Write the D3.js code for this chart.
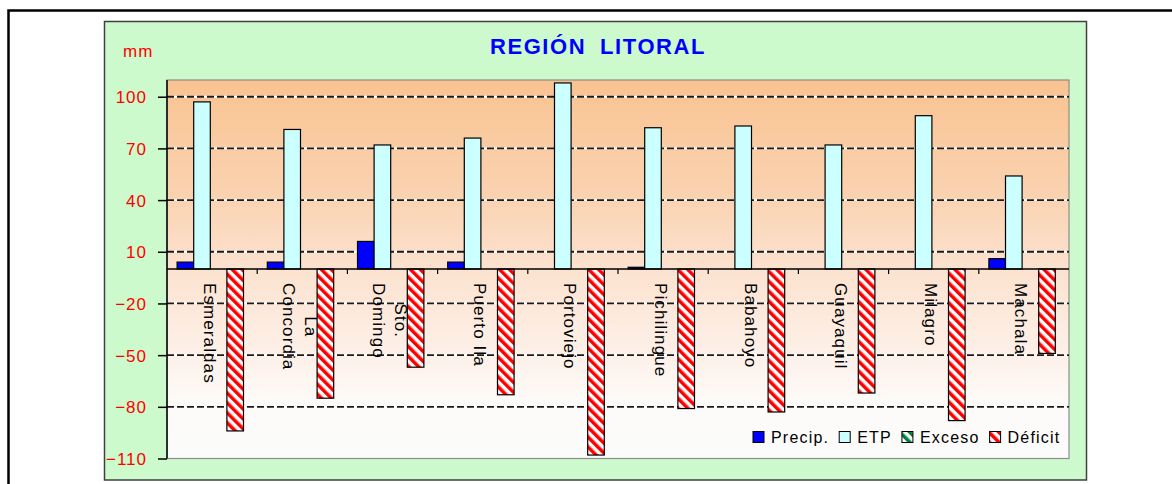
<!DOCTYPE html>
<html>
<head>
<meta charset="utf-8">
<script src="https://cdn.jsdelivr.net/npm/d3@7"></script>
<style>
  html, body { margin: 0; padding: 0; background: #ffffff; }
  svg { display: block; }
  text { font-family: "Liberation Sans", Arial, sans-serif; }
</style>
</head>
<body>
<svg id="chart" width="1172" height="484"></svg>
<script>
// ---------- data ----------
const categories = ["Esmeraldas", "La Concordia", "Sto. Domingo", "Puerto Ila", "Portoviejo",
                    "Pichilingue", "Babahoyo", "Guayaquil", "Milagro", "Machala"];
const categoryLabels = [["Esmeraldas"], ["La", "Concordia"], ["Sto.", "Domingo"], ["Puerto Ila"], ["Portoviejo"],
                        ["Pichilingue"], ["Babahoyo"], ["Guayaquil"], ["Milagro"], ["Machala"]];
const precip  = [4, 4, 16, 4, 0, 1, 0, 0, 0, 6];
const etp     = [97, 81, 72, 76, 108, 82, 83, 72, 89, 54];
const exceso  = [0, 0, 0, 0, 0, 0, 0, 0, 0, 0];
const deficit = [-94, -75, -57, -73, -108, -81, -83, -72, -88, -49];
const seriesNames = ["Precip.", "ETP", "Exceso", "Déficit"];
const yTicks = [-110, -80, -50, -20, 10, 40, 70, 100];
const title = "REGIÓN LITORAL";
const unitLabel = "mm";

// ---------- layout ----------
const svg = d3.select("#chart");
const plot = { left: 167, right: 1069, top: 80, bottom: 458.5 };

const defs = svg.append("defs");
const grad = defs.append("linearGradient").attr("id", "bgGrad")
  .attr("x1", 0).attr("y1", 0).attr("x2", 0).attr("y2", 1);
[[0, "#f9c391"], [0.3, "#fad2b0"], [0.5, "#fce2cf"], [0.72, "#fdf0e8"], [0.86, "#fdfbf9"], [1, "#fbfbfb"]]
  .forEach(([o, c]) => grad.append("stop").attr("offset", o).attr("stop-color", c));

function hatch(id, color) {
  const p = defs.append("pattern").attr("id", id)
    .attr("patternUnits", "userSpaceOnUse").attr("width", 7).attr("height", 7)
    .attr("patternTransform", "rotate(-45)");
  p.append("rect").attr("width", 7).attr("height", 7).attr("fill", "#ffffff");
  p.append("rect").attr("width", 3.5).attr("height", 7).attr("fill", color);
}
hatch("hatchRed", "#ff0000");
hatch("hatchGreen", "#008040");

const seriesFill = ["#0000ff", "#ccffff", "url(#hatchGreen)", "url(#hatchRed)"];
const seriesData = [precip, etp, exceso, deficit];

// outer frame
svg.append("rect").attr("x", 8.5).attr("y", 10.5).attr("width", 1300).attr("height", 600)
  .attr("fill", "#ffffff").attr("stroke", "#000").attr("stroke-width", 2.5);

// green panel
svg.append("rect").attr("x", 104.5).attr("y", 21.5).attr("width", 982).attr("height", 458.5)
  .attr("fill", "#ccfacc").attr("stroke", "#404040").attr("stroke-width", 1.5);

// plot background
svg.append("rect").attr("x", plot.left).attr("y", plot.top)
  .attr("width", plot.right - plot.left).attr("height", plot.bottom - plot.top)
  .attr("fill", "url(#bgGrad)").attr("stroke", "#8c8c8c").attr("stroke-width", 1.2);

// scales
const x = d3.scaleBand().domain(categories).range([plot.left, plot.right]).padding(0);
const bw = x.bandwidth();
const x1 = d3.scaleBand().domain(seriesNames).range([bw * 0.112, bw * 0.848]).padding(0);
const y = d3.scaleLinear().domain([-110, 110]).range([plot.bottom, 79.5]);

// gridlines (white base + black dashes)
const grid = svg.append("g");
yTicks.filter(t => t !== -110).forEach(t => {
  grid.append("line").attr("x1", plot.left).attr("x2", plot.right)
    .attr("y1", y(t)).attr("y2", y(t)).attr("stroke", "#ffffff").attr("stroke-width", 1.8);
  grid.append("line").attr("x1", plot.left).attr("x2", plot.right)
    .attr("y1", y(t)).attr("y2", y(t)).attr("stroke", "#1a1a1a").attr("stroke-width", 1.8)
    .attr("stroke-dasharray", "7,3");
});

// bars
const bars = svg.append("g");
seriesData.forEach((vals, si) => {
  bars.selectAll(null).data(vals.map((v, i) => ({ v, c: categories[i] })).filter(d => d.v !== 0))
    .enter().append("rect")
    .attr("x", d => x(d.c) + x1(seriesNames[si]))
    .attr("width", x1.bandwidth())
    .attr("y", d => Math.min(y(d.v), y(0)))
    .attr("height", d => Math.abs(y(d.v) - y(0)))
    .attr("fill", seriesFill[si])
    .attr("stroke", "#000").attr("stroke-width", 1.2);
});

// zero (category) axis
svg.append("line").attr("x1", plot.left).attr("x2", plot.right)
  .attr("y1", y(0)).attr("y2", y(0)).attr("stroke", "#000").attr("stroke-width", 1.5);
categories.forEach((c, i) => {
  if (i === 0) return;
  svg.append("line").attr("x1", x(c)).attr("x2", x(c))
    .attr("y1", y(0)).attr("y2", y(0) + 5).attr("stroke", "#000").attr("stroke-width", 1.2);
});

// y axis
const yAxis = d3.axisLeft(y).tickValues(yTicks).tickSize(9).tickPadding(11).tickFormat(d3.format("d"));
const ya = svg.append("g").attr("transform", `translate(${plot.left},0)`).call(yAxis);
ya.select(".domain").attr("stroke", "#000").attr("stroke-width", 1.5)
  .attr("d", `M0,${plot.top}V${plot.bottom}`);
ya.selectAll(".tick line").attr("stroke", "#000").attr("stroke-width", 1.5);
ya.selectAll(".tick text").attr("fill", "#ff0000").attr("font-size", 17)
  .attr("font-family", "'Liberation Sans', Arial, sans-serif")
  .attr("letter-spacing", "1px").attr("dy", "0.36em");

// unit label
svg.append("text").attr("x", 123).attr("y", 57).attr("fill", "#ff0000")
  .attr("font-size", 17).attr("letter-spacing", "1px").text(unitLabel);

// title
svg.append("text").attr("x", 598).attr("y", 54).attr("text-anchor", "middle")
  .attr("fill", "#0000ff").attr("font-size", 22).attr("font-weight", "bold")
  .attr("letter-spacing", "1.6px").attr("word-spacing", "6px").text(title);

// category labels (vertical)
const catG = svg.append("g");
categoryLabels.forEach((lines, ci) => {
  const cx = x(categories[ci]) + bw / 2;
  const n = lines.length;
  const texts = lines.map((ln, i) => catG.append("text")
    .attr("font-size", 17).attr("letter-spacing", "1.1px").attr("fill", "#000")
    .attr("text-anchor", "middle").text(ln));
  const maxLen = d3.max(texts, t => t.node().getComputedTextLength());
  texts.forEach((t, i) => {
    const bx = cx - 8.5 + (n - 1) * 11.25 - i * 22.5;
    t.attr("transform", `translate(${bx},${283 + maxLen / 2}) rotate(90)`);
  });
});

// legend
const leg = svg.append("g");
let lx = 753;
const ly = 437;
seriesNames.forEach((name, si) => {
  leg.append("rect").attr("x", lx).attr("y", ly - 5.5).attr("width", 11).attr("height", 11)
    .attr("fill", seriesFill[si]).attr("stroke", "#000").attr("stroke-width", 1);
  const t = leg.append("text").attr("x", lx + 18).attr("y", ly + 6)
    .attr("font-size", 16).attr("letter-spacing", "1.2px").attr("fill", "#000").text(name);
  lx += 18 + t.node().getComputedTextLength() + 10;
});
</script>
</body>
</html>
